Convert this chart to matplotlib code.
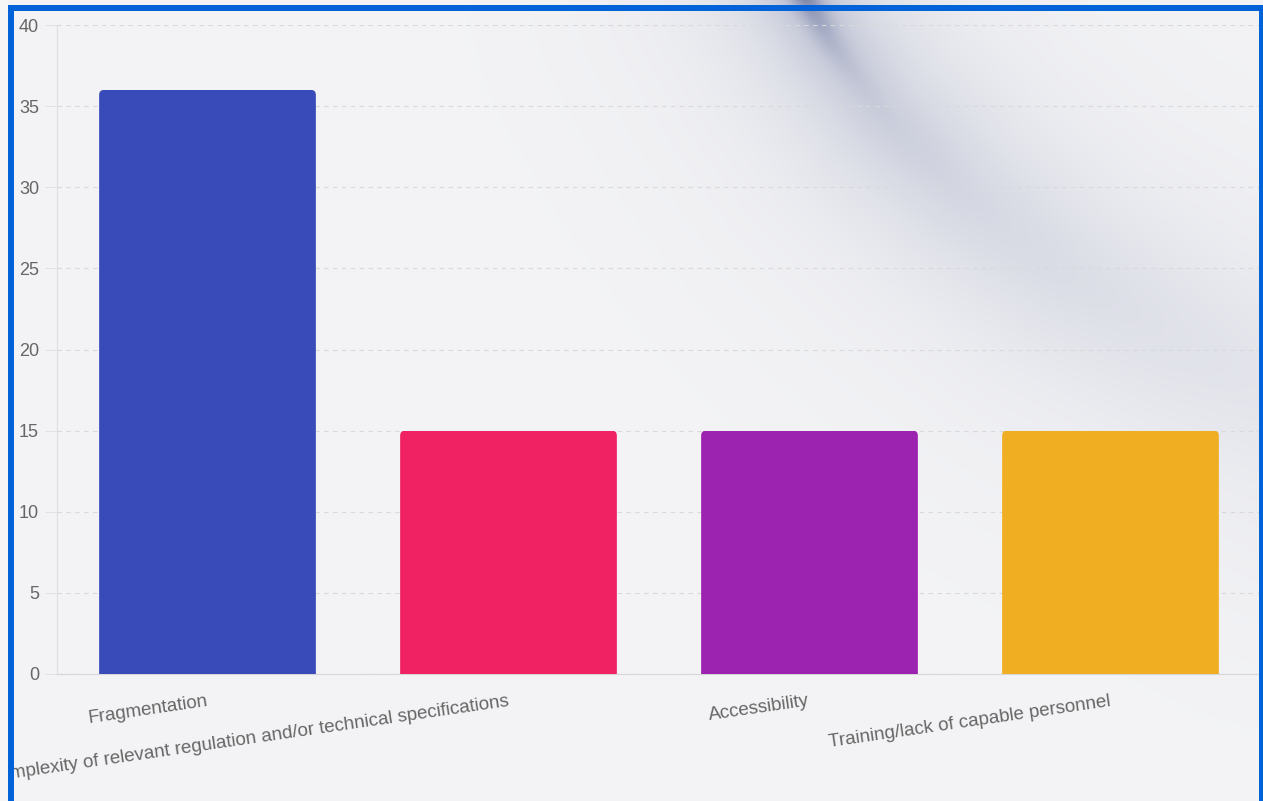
import numpy as np
import matplotlib
matplotlib.use("Agg")
import matplotlib.pyplot as plt
from matplotlib.patches import FancyBboxPatch, Rectangle

# data
categorias = [
    "Fragmentation",
    "Complexity of relevant regulation and/or technical specifications",
    "Accessibility",
    "Training/lack of capable personnel",
]
valores = [36, 15, 15, 15]
cores = ["#384BB8", "#F02263", "#9C22B0", "#F0AF22"]
ticks_y = [0, 5, 10, 15, 20, 25, 30, 35, 40]

W, H = 1263, 801
plt.rcParams['font.family'] = ['Liberation Sans', 'DejaVu Sans']

fig = plt.figure(figsize=(W / 100, H / 100), dpi=100)

# fundo com a "mancha" azulada no canto superior direito
yy, xx = np.mgrid[0:H, 0:W].astype(float)
curva = np.array([(790, -30), (830, 40), (880, 110), (960, 190),
                  (1060, 270), (1180, 340), (1320, 410)], dtype=float)
dist = np.full((H, W), 1e9)
pos = np.zeros((H, W))
comp_total = np.sum(np.hypot(*np.diff(curva, axis=0).T))
acum = 0.0
for (x0, y0), (x1, y1) in zip(curva[:-1], curva[1:]):
    dx, dy = x1 - x0, y1 - y0
    L2 = dx * dx + dy * dy
    t = np.clip(((xx - x0) * dx + (yy - y0) * dy) / L2, 0, 1)
    d = np.hypot(xx - (x0 + t * dx), yy - (y0 + t * dy))
    m = d < dist
    dist[m] = d[m]
    pos[m] = (acum + t[m] * np.sqrt(L2)) / comp_total
    acum += np.sqrt(L2)

nucleo = np.exp(-(dist / 13) ** 2) * np.exp(-pos / 0.07) * 0.75
medio = np.exp(-(dist / 40) ** 2) * np.exp(-pos / 0.25) * 0.2
largo = np.exp(-(dist / 95) ** 2) * 0.12 * np.clip(1.3 - pos, 0, 1)
nevoa = np.exp(-(dist / 230) ** 2) * 0.05
escuro = np.clip(nucleo + medio + largo + nevoa, 0, 0.85)[..., None]
base = np.array([244, 244, 246]) / 255.0
tom = np.array([85, 98, 145]) / 255.0
img = base * (1 - escuro) + tom * escuro

bg = fig.add_axes([0, 0, 1, 1], zorder=-5)
bg.imshow(img, aspect='auto', extent=(0, 1, 0, 1), origin='upper')
bg.axis('off')

ax = fig.add_axes([57 / W, 1 - 674 / H, (1261 - 57) / W, (674 - 25) / H])
ax.set_facecolor('none')

x = np.arange(len(categorias))
barras = ax.bar(x, valores, width=0.72, color=cores, zorder=3)

ax.set_xlim(-0.5, 3.5)
ax.set_ylim(0, 40)
ax.set_yticks(ticks_y)

# cantos superiores arredondados (recorte)
px_x = (1261 - 57) / 4.0
px_y = (674 - 25) / 40.0
raio = 5 / px_x
for b in barras:
    clip = FancyBboxPatch((b.get_x(), -2), b.get_width(), b.get_height() + 2,
                          boxstyle=f"round,pad=0,rounding_size={raio}",
                          mutation_aspect=px_x / px_y,
                          transform=ax.transData, facecolor='none', edgecolor='none')
    b.set_clip_path(clip)

ax.grid(axis='y', color='#d9d9d9', linestyle=(0, (4, 4)), linewidth=0.8, zorder=0)
ax.set_axisbelow(True)
for lado in ['top', 'right']:
    ax.spines[lado].set_visible(False)
ax.spines['left'].set_color('#dedede')
ax.spines['bottom'].set_color('#d6d6d6')

ax.tick_params(axis='y', length=8.6, width=0.8, color='#e2e2e2', pad=4.3,
               labelsize=13, labelcolor='#666666')
ax.tick_params(axis='x', length=0, pad=19.5, labelsize=13.5, labelcolor='#666666')
ax.set_xticks(x)
ax.set_xticklabels(categorias, rotation=8.3, ha='right', va='center',
                   rotation_mode='anchor')

# moldura azul
fig.patches.append(Rectangle((0, 0), 8 / W, 1, transform=fig.transFigure,
                             facecolor='#f6f6f6', edgecolor='none', zorder=10))
fig.patches.append(Rectangle((11 / W, -0.05), (1261.5 - 11) / W, 1.05 - 8 / H,
                             transform=fig.transFigure, facecolor='none',
                             edgecolor='#0062D8', linewidth=4.3, zorder=11))

fig.savefig("out.png", dpi=100)
